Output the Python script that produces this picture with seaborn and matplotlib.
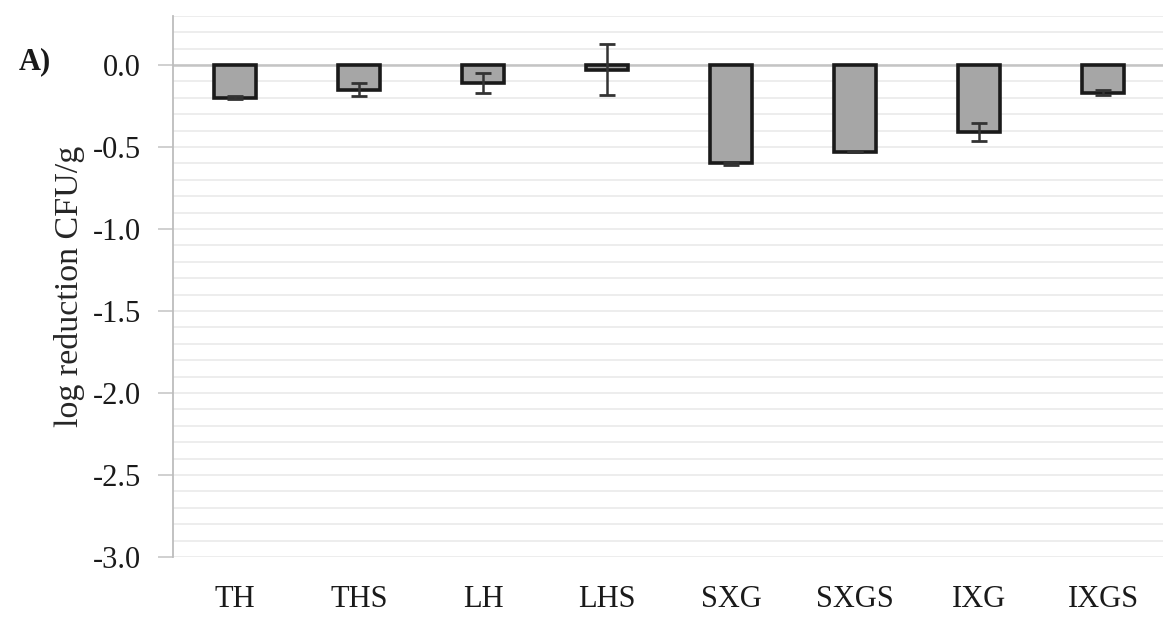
import matplotlib
matplotlib.use("Agg")
import matplotlib.pyplot as plt
import seaborn as sns
import numpy as np
from matplotlib.ticker import MultipleLocator

# Treatments and mean log reductions (CFU/g) with standard deviations
treatments = ["TH", "THS", "LH", "LHS", "SXG", "SXGS", "IXG", "IXGS"]
log_reduction = [-0.20, -0.15, -0.11, -0.03, -0.60, -0.53, -0.41, -0.17]
std_dev = [0.01, 0.04, 0.06, 0.155, 0.01, 0.00, 0.055, 0.015]

sns.set_style("white")
plt.rcParams["font.family"] = ["Liberation Serif", "DejaVu Serif"]

fig = plt.figure(figsize=(11.63, 6.21), dpi=100)
ax = fig.add_axes([0.1488, 0.103, 0.853, 0.8716])

sns.barplot(x=treatments, y=log_reduction, color="#a6a6a6", edgecolor="#1a1a1a",
            linewidth=2.6, width=0.34, errorbar=None, ax=ax, zorder=3)

xpos = np.arange(len(treatments))
ax.errorbar(xpos, log_reduction, yerr=std_dev, fmt="none", ecolor="#333333",
            elinewidth=1.8, capsize=6, capthick=2.0, zorder=4)

ax.set_ylim(-3.0, 0.3)
ax.set_xlim(-0.5, len(treatments) - 0.5)
ax.yaxis.set_minor_locator(MultipleLocator(0.1))
ax.set_yticks(np.arange(-3.0, 0.01, 0.5))
ax.set_yticklabels([f"{v:.1f}" for v in np.arange(-3.0, 0.01, 0.5)])

ax.grid(True, which="both", axis="y", color="#ededed", linewidth=1.4, zorder=0)
ax.axhline(0, color="#c4c4c4", linewidth=1.8, zorder=2)

for side in ["top", "right", "bottom"]:
    ax.spines[side].set_visible(False)
ax.spines["left"].set_color("#bdbdbd")
ax.spines["left"].set_linewidth(1.3)

ax.tick_params(axis="y", which="major", length=11, width=1.2, color="#c8c8c8",
               labelsize=22, pad=12, left=True)
ax.tick_params(axis="y", which="minor", length=0)
ax.tick_params(axis="x", length=0, labelsize=22, pad=20)

ax.set_ylabel("log reduction CFU/g", fontsize=24.5, labelpad=6)
ax.set_xlabel("")
for t in ax.get_xticklabels() + ax.get_yticklabels():
    t.set_color("#1a1a1a")

fig.text(0.016, 0.888, "A)", fontsize=22, fontweight="bold", color="#1a1a1a")

fig.savefig("out.png", dpi=100, facecolor="white")
